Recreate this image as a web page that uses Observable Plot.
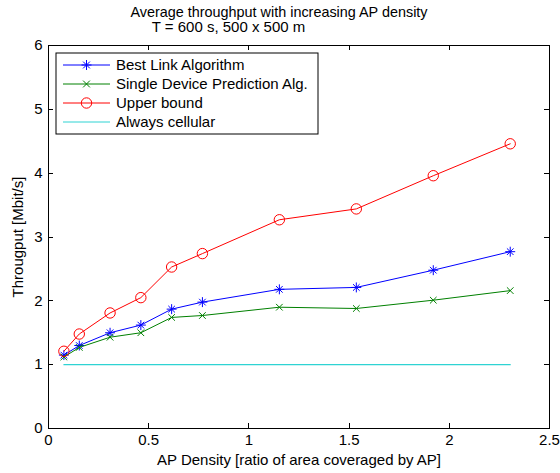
<!DOCTYPE html>
<html>
<head>
<meta charset="utf-8">
<script src="https://cdn.jsdelivr.net/npm/d3@7"></script>
<script src="https://cdn.jsdelivr.net/npm/@observablehq/plot@0.6"></script>
<style>
  body { margin: 0; background: #fff; }
  #chart { width: 560px; height: 473px; }
</style>
</head>
<body>
<div id="chart"></div>
<script>
// AP density: ratio of the 500 x 500 m area covered by access points
const apDensity = [0.0768, 0.1536, 0.3072, 0.4608, 0.6144, 0.768, 1.152, 1.536, 1.92, 2.304];

// Average throughput per strategy [Mbit/s]
const bestLink     = [1.15, 1.30, 1.50, 1.62, 1.87, 1.98, 2.18, 2.21, 2.48, 2.77];
const singleDevice = [1.12, 1.27, 1.43, 1.50, 1.74, 1.77, 1.90, 1.88, 2.01, 2.16];
const upperBound   = [1.21, 1.48, 1.81, 2.05, 2.53, 2.74, 3.27, 3.44, 3.96, 4.46];
const cellular     = [1, 1, 1, 1, 1, 1, 1, 1, 1, 1];

const seriesNames = ["Best Link Algorithm", "Single Device Prediction Alg.", "Upper bound", "Always cellular"];
const seriesColors = ["#0000ff", "#008000", "#ff0000", "#2ed3d3"];

const xTicks = [0, 0.5, 1, 1.5, 2, 2.5];
const yTicks = [0, 1, 2, 3, 4, 5, 6];

const titleText = "Average throughput with increasing AP density";
const subtitleText = "T = 600 s, 500 x 500 m";
const xLabel = "AP Density [ratio of area coveraged by AP]";
const yLabel = "Througput [Mbit/s]";

const toRows = values => apDensity.map((x, i) => ({x, y: values[i]}));
const [bl, sd, ub, ac] = [bestLink, singleDevice, upperBound, cellular].map(toRows);

const FONT = "'Liberation Sans', Arial, Helvetica, sans-serif";
const fmt = d => String(d);

const chart = Plot.plot({
  width: 560,
  height: 473,
  marginLeft: 48,
  marginRight: 11,
  marginTop: 45,
  marginBottom: 45,
  style: {fontFamily: FONT, fontSize: "15px", background: "#fff", color: "#000"},
  x: {domain: [0, 2.5]},
  y: {domain: [0, 6]},
  marks: [
    Plot.axisX({ticks: xTicks, tickFormat: fmt, tickSize: 0, tickPadding: 6, fontSize: 15, label: null}),
    Plot.axisY({ticks: yTicks, tickFormat: fmt, tickSize: 0, tickPadding: 6, fontSize: 15, label: null}),
    // best link: line with asterisk markers (plus + times)
    Plot.line(bl, {x: "x", y: "y", stroke: seriesColors[0], strokeWidth: 1}),
    Plot.dot(bl, {x: "x", y: "y", symbol: "plus", r: 3.3, stroke: seriesColors[0], strokeWidth: 1}),
    Plot.dot(bl, {x: "x", y: "y", symbol: "times", r: 3.1, stroke: seriesColors[0], strokeWidth: 1}),
    // single device prediction: line with x markers
    Plot.line(sd, {x: "x", y: "y", stroke: seriesColors[1], strokeWidth: 1}),
    Plot.dot(sd, {x: "x", y: "y", symbol: "times", r: 3.1, stroke: seriesColors[1], strokeWidth: 1}),
    // upper bound: line with open circles
    Plot.line(ub, {x: "x", y: "y", stroke: seriesColors[2], strokeWidth: 1}),
    Plot.dot(ub, {x: "x", y: "y", r: 5.2, stroke: seriesColors[2], fill: "none", strokeWidth: 1}),
    // always cellular baseline
    Plot.line(ac, {x: "x", y: "y", stroke: seriesColors[3], strokeWidth: 1.2}),
    Plot.frame({stroke: "#000", strokeWidth: 1}),
    // titles and axis labels
    Plot.text([titleText], {frameAnchor: "top", lineAnchor: "middle", textAnchor: "middle", dx: -20, dy: -33.5, fontSize: 14.4, fill: "#000"}),
    Plot.text([subtitleText], {frameAnchor: "top", lineAnchor: "middle", textAnchor: "middle", dx: -70.5, dy: -18, fontSize: 15, fill: "#000"}),
    Plot.text([xLabel], {frameAnchor: "bottom", lineAnchor: "middle", textAnchor: "middle", dy: 31.5, fontSize: 15, fill: "#000"}),
    Plot.text([yLabel], {frameAnchor: "left", lineAnchor: "middle", textAnchor: "middle", dx: -30, rotate: -90, fontSize: 15, fill: "#000"})
  ]
});

document.getElementById("chart").append(chart);

// inward-pointing tick marks on all four sides of the box
const svg = d3.select(chart);
const sx = chart.scale("x"), sy = chart.scale("y");
const [x0, x1] = sx.range, [y0, y1] = sy.range; // y0 bottom, y1 top
const T = 5;
const ticks = svg.append("g").attr("stroke", "#000").attr("stroke-width", 1);
xTicks.forEach(v => {
  const px = Math.round(sx.apply(v)) + 0.5;
  ticks.append("line").attr("x1", px).attr("x2", px).attr("y1", y0).attr("y2", y0 - T);
  ticks.append("line").attr("x1", px).attr("x2", px).attr("y1", y1).attr("y2", y1 + T);
});
yTicks.forEach(v => {
  const py = Math.round(sy.apply(v)) + 0.5;
  ticks.append("line").attr("x1", x0).attr("x2", x0 + T).attr("y1", py).attr("y2", py);
  ticks.append("line").attr("x1", x1).attr("x2", x1 - T).attr("y1", py).attr("y2", py);
});

// legend box in the upper-left corner of the axes
const lg = svg.append("g").attr("font-family", FONT).attr("font-size", 15).attr("text-anchor", "start");
const boxX = x0 + 8, boxY = y1 + 8, boxW = 262, boxH = 81;
lg.append("rect").attr("x", boxX).attr("y", boxY).attr("width", boxW).attr("height", boxH)
  .attr("fill", "#fff").attr("stroke", "#000").attr("stroke-width", 1);
seriesNames.forEach((name, i) => {
  const cy = boxY + 12 + i * 19;
  const lx0 = boxX + 7, lx1 = boxX + 54, mx = (lx0 + lx1) / 2;
  const c = seriesColors[i];
  lg.append("line").attr("x1", lx0).attr("x2", lx1).attr("y1", cy).attr("y2", cy)
    .attr("stroke", c).attr("stroke-width", 1);
  if (i === 0 || i === 1) {
    const r = 3.4;
    lg.append("path").attr("d", `M${mx - r},${cy - r}L${mx + r},${cy + r}M${mx - r},${cy + r}L${mx + r},${cy - r}`)
      .attr("stroke", c).attr("fill", "none");
    if (i === 0) {
      lg.append("path").attr("d", `M${mx - 5},${cy}L${mx + 5},${cy}M${mx},${cy - 5}L${mx},${cy + 5}`)
        .attr("stroke", c).attr("fill", "none");
    }
  } else if (i === 2) {
    lg.append("circle").attr("cx", mx).attr("cy", cy).attr("r", 5.2)
      .attr("stroke", c).attr("fill", "none");
  }
  lg.append("text").attr("x", boxX + 60).attr("y", cy).attr("dy", "0.35em").attr("fill", "#000").text(name);
});
</script>
</body>
</html>
